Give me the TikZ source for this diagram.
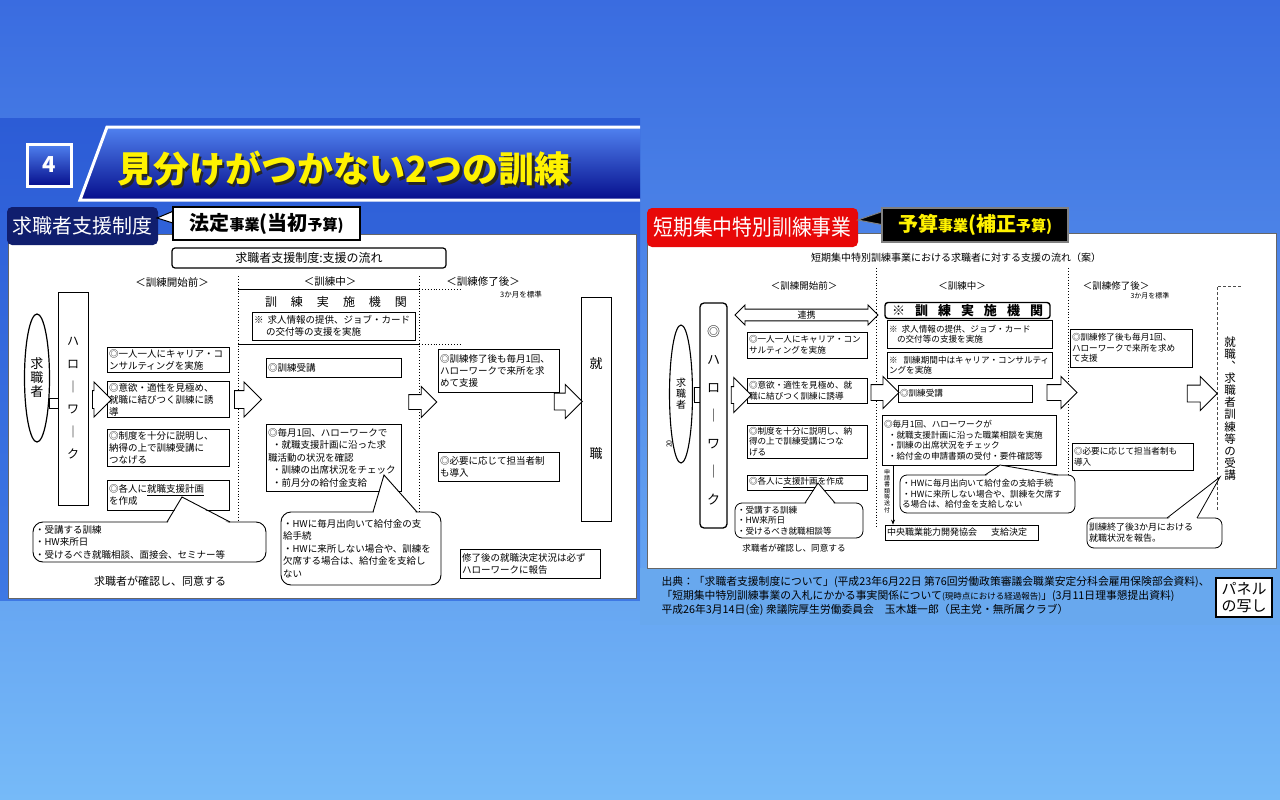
\documentclass[tikz,border=0pt]{standalone}
\usepackage{fontspec}
\setmainfont{Noto Sans CJK JP}
\usetikzlibrary{arrows.meta,positioning,shapes.geometric,shapes.arrows}
\definecolor{skytop}{RGB}{58,108,224}
\definecolor{skybot}{RGB}{118,186,248}
\definecolor{slidetop}{RGB}{44,92,214}
\definecolor{slidebot}{RGB}{62,120,228}
\definecolor{bannerhi}{RGB}{80,130,240}
\definecolor{bannerlo}{RGB}{6,14,140}
\definecolor{navy}{RGB}{16,30,110}
\definecolor{signred}{RGB}{232,8,8}
\definecolor{signyellow}{RGB}{255,242,0}
\definecolor{capblue}{RGB}{104,168,238}
\tikzset{
  box/.style={draw,line width=0.9pt,fill=white,align=left,inner sep=2pt,font=\fontsize{9.5}{12}\selectfont},
  sbox/.style={draw,line width=0.8pt,fill=white,align=left,inner sep=2pt,font=\fontsize{8.6}{10.5}\selectfont},
  call/.style={box,rounded corners=10pt,font=\fontsize{9.5}{12.5}\selectfont},
  scall/.style={sbox,rounded corners=7pt},
  blk/.style={single arrow,draw,fill=white,line width=0.9pt,inner xsep=0pt,inner ysep=8.5pt,single arrow head extend=8.5pt},
  sblk/.style={blk,inner ysep=7.5pt,single arrow head extend=8pt},
  phase/.style={font=\fontsize{10.5}{10.5}\selectfont},
  sphase/.style={font=\fontsize{9.5}{9.5}\selectfont},
  vtext/.style={align=center,inner sep=0pt},
  sep/.style={dotted,line width=0.9pt}
}
\begin{document}
\begin{tikzpicture}[x=1pt,y=-1pt]
\useasboundingbox (0,0) rectangle (1280,800);
\shade[top color=skytop,bottom color=skybot] (0,0) rectangle (1280,800);
\shade[top color=slidetop,bottom color=slidebot] (0,118) rectangle (640,600);
\fill[capblue] (640,568) rectangle (1280,625);
\draw[black!60,fill=white] (8,234) rectangle (636,598);
\draw[black!60,fill=white] (647,233) rectangle (1276,568);

% left slide heading
\begin{scope}
  \clip (0,118) rectangle (640,600);
  \shadedraw[top color=bannerhi,bottom color=bannerlo,draw=white,line width=3pt] (107,127) -- (650,127) -- (650,200) -- (80,200) -- cycle;
\end{scope}
\node[draw=white,line width=3pt,top color=bannerhi,bottom color=bannerlo,minimum width=44pt,minimum height=42pt,text=white,font=\bfseries\fontsize{22}{22}\selectfont] (num) at (49,165) {4};
\node[text=black!85,font=\bfseries\fontsize{36}{36}\selectfont] (titleshadow) at (346.5,171.5) {見分けがつかない2つの訓練};
\node[text=signyellow,font=\bfseries\fontsize{36}{36}\selectfont] (title) at (344,169) {見分けがつかない2つの訓練};

\node[fill=navy,rounded corners=5pt,text=white,minimum width=151pt,minimum height=38pt,font=\fontsize{20}{20}\selectfont] (lname) at (82.5,226) {求職者支援制度};
\filldraw[fill=white,draw=black,line width=1pt] (157,218) -- (176,210) -- (176,224) -- cycle;
\node[draw,line width=1.2pt,fill=white,minimum width=187pt,minimum height=33pt,inner sep=0pt,font=\bfseries] (ltype) at (266.5,223.5) {{\fontsize{20}{20}\selectfont 法定}{\fontsize{15}{15}\selectfont 事業}{\fontsize{20}{20}\selectfont (当初}{\fontsize{15}{15}\selectfont 予算)}};

\node[fill=signred,rounded corners=5pt,text=white,minimum width=211pt,minimum height=39pt,font=\fontsize{22}{22}\selectfont] (rname) at (752.5,227.5) {\scalebox{0.9}[1]{短期集中特別訓練事業}};
\filldraw[fill=black,draw=black!50,line width=1pt] (858,220) -- (884,211) -- (884,225) -- cycle;
\node[draw=black!50,line width=1.2pt,fill=black,text=signyellow,minimum width=186pt,minimum height=34pt,inner sep=0pt,font=\bfseries] (rtype) at (975,225) {{\fontsize{20}{20}\selectfont 予算}{\fontsize{15}{15}\selectfont 事業}{\fontsize{20}{20}\selectfont (補正}{\fontsize{15}{15}\selectfont 予算)}};

% left panel
\node[draw,line width=1.2pt,rounded corners=3pt,minimum width=274pt,minimum height=20pt,font=\fontsize{12}{12}\selectfont] (lhead) at (309,258) {求職者支援制度:支援の流れ};
\node[phase] (lp1) at (172,282) {＜訓練開始前＞};
\node[phase] (lp2) at (330,282) {＜訓練中＞};
\node[phase] (lp3) at (483,282) {＜訓練修了後＞};
\node[font=\fontsize{7.5}{7.5}\selectfont] (lstd) at (521,295) {3か月を標準};
\draw[sep] (238,276) -- (238,522);
\draw[sep] (419,276) -- (419,512);
\draw[line width=0.8pt] (238,289) -- (419,289);
\draw[line width=0.8pt] (238,344) -- (419,344);
\draw[sep] (419,289) -- (460,289);
\draw[sep] (419,344) -- (460,344);
\node[font=\fontsize{12}{12}\selectfont] (lorg) at (336,302) {訓\hspace{14pt}練\hspace{14pt}実\hspace{14pt}施\hspace{14pt}機\hspace{14pt}関};
\node[box,text width=159pt,minimum height=28pt] (lorgnote) at (333.5,326) {※\hspace{4pt}求人情報の提供、ジョブ・カード\\\hspace*{12pt}の交付等の支援を実施};

\node[draw,ellipse,line width=1.2pt,minimum width=25pt,minimum height=128pt,inner sep=0pt,align=center,font=\fontsize{13}{14}\selectfont] (lseeker) at (37,378) {求\\職\\者};
\node[draw,line width=0.9pt,minimum width=9pt,minimum height=10pt,inner sep=0pt] (lstub) at (54,403) {};
\node[draw,line width=0.9pt,fill=white,minimum width=30pt,minimum height=213pt,inner sep=0pt,align=center,font=\fontsize{12}{22.6}\selectfont] (lhw) at (73,398.5) {ハ\\ロ\\｜\\ワ\\｜\\ク};

\node[box,text width=118pt,minimum height=25pt] (lb1) at (168,359.5) {◎一人一人にキャリア・コ\\ンサルティングを実施};
\node[box,text width=118pt,minimum height=35pt] (lb2) at (168,399.5) {◎意欲・適性を見極め、\\就職に結びつく訓練に誘\\導};
\node[box,text width=118pt,minimum height=32pt] (lb3) at (168,448) {◎制度を十分に説明し、\\納得の上で訓練受講に\\つなげる};
\node[box,text width=118pt,minimum height=30pt] (lb4) at (168,495) {◎各人に\underline{就職支援計画}\\を作成};
\node[call,text width=229pt,minimum height=40pt] (lcall) at (149.5,542) {・受講する訓練\\・HW来所日\\・受けるべき就職相談、面接会、セミナー等};
\fill[white] (167.5,523.5) -- (182,497) -- (229.5,523.5) -- cycle;
\draw[line width=0.9pt] (167,522) -- (182,497) -- (230,522);
\node[font=\fontsize{11}{11}\selectfont] (lagree) at (160,581) {求職者が確認し、同意する};

\node[box,text width=131pt,minimum height=19pt] (lm1) at (333.5,367.5) {◎訓練受講};
\node[box,text width=131pt,minimum height=67pt,font=\fontsize{9.5}{12.5}\selectfont] (lm2) at (333.5,457.5) {◎毎月1回、ハローワークで\\\hspace*{4pt}・就職支援計画に沿った求\\職活動の状況を確認\\\hspace*{4pt}・訓練の出席状況をチェック\\\hspace*{4pt}・前月分の給付金支給};
\node[call,text width=156pt,minimum height=73pt] (mcall) at (361,548.5) {・HWに毎月出向いて給付金の支\\給手続\\・HWに来所しない場合や、訓練を\\欠席する場合は、給付金を支給し\\ない};
\fill[white] (373.5,513.5) -- (384,475) -- (416.5,513.5) -- cycle;
\draw[line width=0.9pt] (373,512) -- (384,475) -- (417,512);

\node[box,text width=117pt,minimum height=43pt] (lr1) at (498.5,370.5) {◎訓練修了後も毎月1回、\\ハローワークで来所を求\\めて支援};
\node[box,text width=117pt,minimum height=29pt] (lr2) at (498.5,466.5) {◎必要に応じて担当者制\\も導入};
\node[draw,line width=0.9pt,fill=white,minimum width=30pt,minimum height=224pt,inner sep=0pt,align=center,font=\fontsize{13}{90}\selectfont] (ljob) at (596,409) {就\\職};
\node[box,text width=136pt,minimum height=29pt] (lr3) at (530,563.5) {修了後の就職決定状況は必ず\\ハローワークに報告};

\node[blk,minimum height=19pt] (la1) at (97.5,399.5) {};
\node[blk,minimum height=27pt] (la2) at (243.5,399.5) {};
\node[blk,minimum height=28pt,inner ysep=7pt,single arrow head extend=8pt] (la3) at (419,402) {};
\node[blk,minimum height=28pt,inner ysep=8pt] (la4) at (564,401.5) {};

% right panel
\node[font=\fontsize{10}{10}\selectfont] (rhead) at (956,258) {短期集中特別訓練事業における求職者に対する支援の流れ（案）};
\node[sphase] (rp1) at (804,286) {＜訓練開始前＞};
\node[sphase] (rp2) at (962,286) {＜訓練中＞};
\node[sphase] (rp3) at (1116,286) {＜訓練修了後＞};
\node[font=\fontsize{7}{7}\selectfont] (rstd) at (1150,296) {3か月を標準};
\draw[sep] (876,268) -- (876,528);
\draw[sep] (1068,268) -- (1068,475);

\node[draw,ellipse,line width=1.1pt,minimum width=23pt,minimum height=138pt,inner sep=0pt,align=center,font=\fontsize{10}{11}\selectfont] (rseeker) at (681,394) {求\\職\\者};
\node[font=\fontsize{7}{7}\selectfont,rotate=90] (rscan) at (669,444) {20};
\node[draw,line width=0.9pt,minimum width=7pt,minimum height=15pt,inner sep=0pt] (rstub) at (697.5,394.5) {};
\node[draw,line width=1.3pt,fill=white,rounded corners=4pt,minimum width=27pt,minimum height=225pt,inner sep=0pt,align=center,font=\fontsize{13}{28}\selectfont] (rhw) at (713.5,415.5) {◎\\ハ\\ロ\\｜\\ワ\\｜\\ク};
\node[double arrow,draw,fill=white,line width=0.9pt,minimum height=143pt,minimum width=20pt,double arrow head extend=4pt,inner sep=1pt,font=\fontsize{9}{9}\selectfont] (rlink) at (806.5,315) {連携};

\node[sbox,text width=116pt,minimum height=26pt] (rb1) at (807,345) {◎一人一人にキャリア・コン\\サルティングを実施};
\node[sbox,text width=116pt,minimum height=25pt] (rb2) at (807,390.5) {◎意欲・適性を見極め、就\\職に結びつく訓練に誘導};
\node[sbox,text width=116pt,minimum height=33pt] (rb3) at (807,441.5) {◎制度を十分に説明し、納\\得の上で訓練受講につな\\げる};
\node[sbox,text width=116pt,minimum height=15pt] (rb4) at (807,482.5) {◎各人に\underline{支援計画}を作成};
\node[scall,text width=124pt,minimum height=35pt] (rcall1) at (799,520.5) {・受講する訓練\\・HW来所日\\・受けるべき就職相談等};
\fill[white] (805.5,504.5) -- (818,483) -- (834.5,504.5) -- cycle;
\draw[line width=0.8pt] (805,503) -- (818,483) -- (835,503);
\node[font=\fontsize{8.6}{8.6}\selectfont] (ragree) at (794,548) {求職者が確認し、同意する};

\node[draw,line width=1.4pt,fill=white,rounded corners=3pt,minimum width=165pt,minimum height=16pt,inner sep=0pt,font=\bfseries\fontsize{13}{13}\selectfont] (rorg) at (967.5,310.5) {※\hspace{10pt}訓\hspace{10pt}練\hspace{10pt}実\hspace{10pt}施\hspace{10pt}機\hspace{10pt}関};
\node[sbox,text width=161pt,minimum height=28pt] (rm1) at (969.5,334) {※\hspace{4pt}求人情報の提供、ジョブ・カード\\\hspace*{8pt}の交付等の支援を実施};
\node[sbox,text width=161pt,minimum height=26pt] (rm2) at (969.5,365) {※\hspace{6pt}訓練期間中はキャリア・コンサルティ\\ングを実施};
\node[sbox,text width=130pt,minimum height=17pt] (rm3) at (965,393.5) {◎訓練受講};
\node[sbox,text width=170pt,minimum height=50pt] (rm4) at (969,440) {◎毎月1回、ハローワークが\\\hspace*{4pt}・就職支援計画に沿った職業相談を実施\\\hspace*{4pt}・訓練の出席状況をチェック\\\hspace*{4pt}・給付金の申請書類の受付・要件確認等};
\node[scall,text width=171pt,minimum height=38pt] (rcall2) at (987.5,494) {・HWに毎月出向いて給付金の支給手続\\・HWに来所しない場合や、訓練を欠席す\\る場合は、給付金を支給しない};
\fill[white] (985.5,476.5) -- (1000,465) -- (1057.5,476.5) -- cycle;
\draw[line width=0.8pt] (985,475) -- (1000,465) -- (1058,475);
\node[sbox,text width=149pt,minimum height=15pt,font=\fontsize{9}{9}\selectfont] (rdec) at (961.5,532.5) {中央職業能力開発協会\hspace{14pt}支給決定};
\draw[-{Stealth[length=5pt,width=4pt]},line width=0.7pt] (rm4.south west -| 893,0) -- (rdec.north west -| 893,0);
\node[vtext,font=\fontsize{6}{6.3}\selectfont] (rsend) at (887,491) {申\\請\\書\\類\\等\\送\\付};

\node[sbox,text width=118pt,minimum height=38pt] (rr1) at (1131,348) {◎訓練修了後も毎月1回、\\ハローワークで来所を求め\\て支援};
\node[sbox,text width=117pt,minimum height=27pt] (rr2) at (1132.5,456.5) {◎必要に応じて担当者制も\\導入};
\draw[black!70,line width=0.6pt,densely dashed] (1217,510) -- (1217,286) -- (1242,286);
\node[vtext,font=\fontsize{11.5}{12.1}\selectfont] (rjob) at (1230,408.5) {就\\職\\︑\\求\\職\\者\\訓\\練\\等\\の\\受\\講};
\node[scall,text width=131pt,minimum height=30pt,font=\fontsize{9}{11}\selectfont] (rcall3) at (1154.5,533) {訓練終了後3か月における\\就職状況を報告。};
\fill[white] (1167.5,519.5) -- (1220,477) -- (1196.5,519.5) -- cycle;
\draw[line width=0.8pt] (1167,518) -- (1220,477) -- (1197,518);

\node[sblk,minimum height=20pt,inner ysep=8pt,single arrow head extend=9pt] (ra1) at (737,395) {};
\node[sblk,minimum height=28pt] (ra2) at (881,392.5) {};
\node[sblk,minimum height=30pt] (ra3) at (1058,392.5) {};
\node[sblk,minimum height=30pt,inner ysep=8pt,single arrow head extend=8.5pt] (ra4) at (1198,393.5) {};

% source
\node[anchor=west,font=\fontsize{10.8}{10.8}\selectfont] (src1) at (658,582) {出典：「求職者支援制度について」(平成23年6月22日 第76回労働政策審議会職業安定分科会雇用保険部会資料)、};
\node[anchor=west,font=\fontsize{10.8}{10.8}\selectfont] (src2) at (658,596) {「短期集中特別訓練事業の入札にかかる事実関係について{\fontsize{8.5}{8.5}\selectfont (現時点における経過報告)}」(3月11日理事懇提出資料)};
\node[anchor=west,font=\fontsize{10.8}{10.8}\selectfont] (src3) at (658,610) {平成26年3月14日(金) 衆議院厚生労働委員会　玉木雄一郎（民主党・無所属クラブ）};
\node[draw,line width=1.2pt,fill=white,minimum width=56pt,minimum height=39pt,inner sep=0pt,align=center,font=\fontsize{15}{17}\selectfont] (panel) at (1244,597.5) {パネル\\の写し};
\end{tikzpicture}
\end{document}
